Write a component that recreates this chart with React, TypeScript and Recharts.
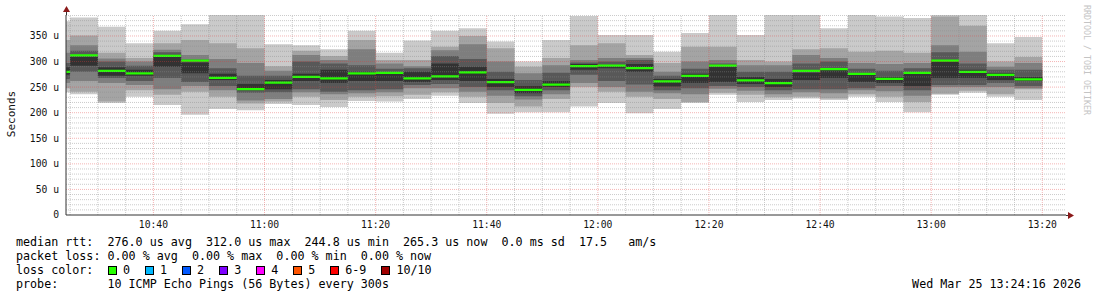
import { ComposedChart, Area, XAxis, YAxis, ReferenceLine } from 'recharts'

// start minute (since midnight) of each 5 minute step
const stepStart = [
  620, 625, 630, 635, 640, 645, 650, 655, 660, 665, 670, 675,
  680, 685, 690, 695, 700, 705, 710, 715, 720, 725, 730, 735,
  740, 745, 750, 755, 760, 765, 770, 775, 780, 785, 790, 795,
]

// 10 sorted pings per step, microseconds
const pings: number[][] = [
  [240, 248, 258, 266, 274, 289, 297, 317, 342, 379],
  [236, 241, 262, 280, 292, 310, 321, 332, 351, 386],
  [219, 222, 258, 268, 272, 289, 300, 306, 317, 368],
  [231, 244, 254, 262, 272, 284, 292, 300, 307, 336],
  [215, 235, 246, 268, 290, 310, 318, 323, 336, 360],
  [196, 241, 252, 260, 277, 298, 304, 313, 342, 373],
  [207, 231, 244, 252, 264, 276, 287, 305, 336, 391],
  [205, 218, 224, 239, 244, 256, 272, 297, 326, 391],
  [217, 222, 227, 240, 246, 264, 272, 282, 291, 334],
  [215, 231, 240, 246, 262, 276, 300, 313, 321, 332],
  [211, 225, 236, 241, 258, 284, 296, 303, 311, 324],
  [223, 231, 238, 244, 262, 280, 293, 324, 342, 360],
  [222, 232, 240, 246, 262, 278, 286, 296, 303, 317],
  [227, 235, 248, 254, 260, 280, 287, 291, 303, 341],
  [233, 240, 248, 256, 264, 296, 311, 322, 329, 360],
  [219, 231, 241, 250, 262, 290, 305, 334, 350, 365],
  [198, 219, 233, 244, 250, 266, 280, 300, 326, 339],
  [201, 212, 226, 232, 238, 252, 264, 277, 290, 300],
  [201, 227, 236, 244, 250, 262, 278, 293, 307, 342],
  [212, 250, 258, 274, 284, 295, 298, 303, 332, 389],
  [219, 241, 250, 262, 287, 293, 300, 307, 336, 352],
  [199, 231, 241, 255, 280, 295, 303, 307, 313, 352],
  [207, 227, 238, 244, 251, 266, 272, 280, 297, 319],
  [219, 221, 236, 248, 258, 276, 286, 300, 329, 356],
  [235, 239, 247, 252, 260, 290, 296, 303, 329, 391],
  [221, 235, 243, 250, 256, 270, 280, 293, 303, 352],
  [225, 230, 236, 244, 250, 266, 280, 293, 300, 391],
  [228, 231, 240, 246, 264, 278, 296, 313, 324, 391],
  [225, 228, 238, 246, 268, 287, 300, 307, 326, 365],
  [231, 236, 244, 248, 260, 274, 286, 297, 319, 391],
  [221, 231, 242, 252, 258, 270, 282, 295, 321, 388],
  [201, 221, 233, 244, 252, 277, 287, 297, 317, 385],
  [235, 237, 250, 254, 268, 300, 318, 332, 388, 391],
  [239, 243, 250, 254, 268, 284, 296, 319, 370, 391],
  [231, 236, 250, 258, 264, 277, 284, 290, 300, 336],
  [225, 246, 248, 252, 262, 270, 284, 297, 309, 348],
]

const median = [
  280, 312, 282, 277, 311, 302, 268, 246, 259, 270, 267, 277,
  278, 267, 271, 279, 260, 244.8, 255, 291, 292, 287, 261, 272,
  292, 263, 258, 282, 285, 276, 266, 278, 302, 280, 274, 265.3,
]

const timeTicks = [640, 660, 680, 700, 720, 740, 760, 780, 800]
const rttTicks = [0, 50, 100, 150, 200, 250, 300, 350]

const lossLabels = ['0', '1', '2', '3', '4', '5', '6-9', '10/10']
const lossColors = ['#26ff00', '#00b8ff', '#0059ff', '#7e00ff', '#ff00ff', '#ff5500', '#ff0000', '#a10000']
const smokeColors = ['#cacaca', '#a4a4a4', '#7e7e7e', '#585858', '#323232']

const statsLines = [
  'median rtt:  276.0 us avg  312.0 us max  244.8 us min  265.3 us now  0.0 ms sd  17.5   am/s',
  'packet loss: 0.00 % avg  0.00 % max  0.00 % min  0.00 % now',
]
const probeLine = 'probe:       10 ICMP Echo Pings (56 Bytes) every 300s'
const stamp = 'Wed Mar 25 13:24:16 2026'

const T0 = 624 + 16 / 60
const T1 = T0 + 180
const RTT_TOP = 391
const MED_HALF = 2.2
const MONO = '"DejaVu Sans Mono", monospace'

const toRow = (t: number, i: number) => {
  const p = pings[i]
  const row: Record<string, unknown> = { t, med: [median[i] - MED_HALF, median[i] + MED_HALF] }
  for (let k = 0; k < 5; k++) row[`s${k}`] = [p[k], p[9 - k]]
  return row
}
const rows = stepStart.map(toRow)
// close the last step
rows.push(toRow(stepStart[stepStart.length - 1] + 5, stepStart.length - 1))

const hMinor: number[] = []
const hMajor: number[] = []
for (let v = 10; v < RTT_TOP; v += 10) (v % 50 ? hMinor : hMajor).push(v)
const vMinor: number[] = []
const vMajor: number[] = []
for (let m = 625; m <= 800; m += 5) (m % 20 ? vMinor : vMajor).push(m)

const fmtTime = (m: number) => `${Math.floor(m / 60)}:${String(m % 60).padStart(2, '0')}`
const fmtRtt = (v: number) => (v === 0 ? '0' : `${v} u`)

const MINOR = 'rgba(140,140,140,0.45)'
const MAJOR = 'rgba(225,60,60,0.38)'

export default function App() {
  return (
    <div style={{ position: 'absolute', left: 0, top: 0, width: 1097, height: 297, background: '#fff' }}>
      <ComposedChart width={1097} height={297} data={rows} margin={{ top: 15, right: 31, bottom: 52, left: 0 }}>
        <XAxis
          dataKey="t" type="number" domain={[T0, T1]} allowDataOverflow ticks={timeTicks}
          tickFormatter={fmtTime} tickSize={0} tickMargin={6} height={30}
          tick={{ fontFamily: MONO, fontSize: 9.7, fill: '#111' }}
          axisLine={{ stroke: '#333' }}
        />
        <YAxis
          type="number" domain={[0, RTT_TOP]} allowDataOverflow ticks={rttTicks}
          tickFormatter={fmtRtt} tickSize={0} tickMargin={7} width={66}
          tick={{ fontFamily: MONO, fontSize: 9.7, fill: '#111' }}
          axisLine={{ stroke: '#333' }}
        />
        {smokeColors.map((c, k) => (
          <Area
            key={k} dataKey={`s${k}`} type="stepAfter" fill={c} fillOpacity={1}
            stroke="none" dot={false} activeDot={false} isAnimationActive={false}
          />
        ))}
        <Area
          dataKey="med" type="stepAfter" fill={lossColors[0]} fillOpacity={1}
          stroke="none" dot={false} activeDot={false} isAnimationActive={false}
        />
        {hMinor.map((v) => <ReferenceLine key={`hm${v}`} y={v} stroke={MINOR} strokeDasharray="1 1" />)}
        {vMinor.map((m) => <ReferenceLine key={`vm${m}`} x={m} stroke={MINOR} strokeDasharray="1 1" />)}
        {hMajor.map((v) => <ReferenceLine key={`hM${v}`} y={v} stroke={MAJOR} strokeDasharray="1 1" />)}
        {vMajor.map((m) => <ReferenceLine key={`vM${m}`} x={m} stroke={MAJOR} strokeDasharray="1 1" />)}
      </ComposedChart>

      <svg width={1097} height={297} style={{ position: 'absolute', left: 0, top: 0, pointerEvents: 'none' }}>
        <line x1={66.5} y1={15} x2={66.5} y2={10} stroke="#333" />
        <polygon points="63,12 70,12 66.5,6" fill="#8b1a1a" />
        <line x1={1066} y1={215.5} x2={1069} y2={215.5} stroke="#333" />
        <polygon points="1068,212 1068,219 1074,215.5" fill="#8b1a1a" />
        <text
          x={11} y={114} transform="rotate(-90 11 114)" textAnchor="middle" dominantBaseline="central"
          fontFamily={MONO} fontSize={11} fill="#111"
        >Seconds</text>
        <text
          x={1084} y={5} transform="rotate(90 1084 5)" fontFamily={MONO} fontSize={8.3} fill="#c4c4c4"
        >RRDTOOL / TOBI OETIKER</text>
      </svg>

      <div style={{ position: 'absolute', left: 16, top: 235, fontFamily: MONO, fontSize: 11.7, lineHeight: '14px', whiteSpace: 'pre', color: '#000' }}>
        {statsLines.map((s) => <div key={s}>{s}</div>)}
        <div style={{ display: 'flex', alignItems: 'center' }}>
          <span style={{ width: 92 }}>loss color:</span>
          {lossLabels.map((l, i) => (
            <span key={l} style={{ display: 'inline-flex', alignItems: 'center', marginRight: 15 }}>
              <span style={{ width: 7, height: 7, border: '1px solid #000', background: lossColors[i], marginRight: 6 }} />
              <span>{l}</span>
            </span>
          ))}
        </div>
        <div>{probeLine}</div>
      </div>
      <div style={{ position: 'absolute', right: 16, top: 277, fontFamily: MONO, fontSize: 11.7, lineHeight: '14px', whiteSpace: 'pre', color: '#000' }}>
        {stamp}
      </div>
    </div>
  )
}
